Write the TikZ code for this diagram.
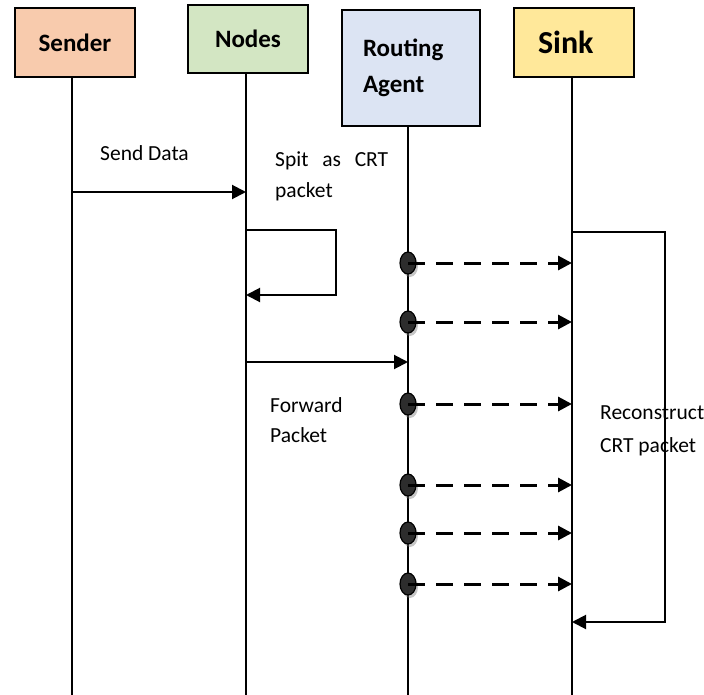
\documentclass[tikz,border=0pt]{standalone}
\usepackage{fontspec}
\setmainfont{Carlito}
\definecolor{sendc}{HTML}{F8CBAD}
\definecolor{nodec}{HTML}{D3E6C3}
\definecolor{routc}{HTML}{DCE4F3}
\definecolor{sinkc}{HTML}{FFE89A}
\usetikzlibrary{arrows.meta}
\usetikzlibrary{shapes.geometric, shadows}
\tikzstyle{head}=[draw=black, line width=2.5pt, inner sep=0pt, align=left, font=\bfseries\fontsize{25}{36}\selectfont]
\tikzstyle{lbl}=[anchor=west, inner sep=0pt, align=left, font=\fontsize{21.5}{31}\selectfont]
\tikzstyle{life}=[line width=2pt]
\tikzstyle{msg}=[line width=2pt, -{Triangle[length=14pt,width=14pt]}]
\tikzstyle{dmsg}=[line width=3pt, dash pattern=on 17pt off 11pt, -{Triangle[length=14pt,width=14pt]}]
\tikzstyle{ball}=[ellipse, draw=black, line width=1.2pt, fill=gray!35!black, minimum width=16pt, minimum height=22pt, inner sep=0pt,
  drop shadow={shadow xshift=2pt, shadow yshift=-3pt, opacity=.45}]

\begin{document}
\begin{tikzpicture}[x=1pt, y=-1pt]
    \useasboundingbox (0,0) rectangle (704,695);

      % heads
      \node[head, fill=sendc, minimum width=120pt, minimum height=69pt] (sender) at (75,42.5) {Sender};
      \node[head, fill=nodec, minimum width=120pt, minimum height=68pt] (nodes) at (248,39) {Nodes};
      \node[head, fill=routc, minimum width=138pt, minimum height=116pt, text width=96pt] (agent) at (411,68) {Routing\\Agent};
      \node[head, fill=sinkc, minimum width=120pt, minimum height=69pt, text width=72pt,
            font=\bfseries\fontsize{32}{36}\selectfont] (sink) at (574,42.5) {Sink};

      % life lines
      \coordinate (sbot) at (72,695);
      \coordinate (nbot) at (246,695);
      \coordinate (abot) at (408,695);
      \coordinate (kbot) at (572,695);
      \draw[life] (sender.south -| sbot) -- (sbot);
      \draw[life] (nodes.south -| nbot) -- (nbot);
      \draw[life] (agent.south -| abot) -- (abot);
      \draw[life] (sink.south -| kbot) -- (kbot);

      % sender -> nodes
      \coordinate (s1) at (72,192);
      \coordinate (n1) at (246,192);
      \draw[msg] (s1) -- (n1);
      \node[lbl] (send) at (100,153) {Send Data};

      % split
      \coordinate (n2) at (246,230);
      \coordinate (n3) at (246,295);
      \draw[msg] (n2) -- ++(90,0) |- (n3);
      \node[lbl, text width=113pt] (split) at (275,176) {Spit\hfill as\hfill CRT\\packet};

      % nodes -> agent
      \coordinate (n4) at (246,362);
      \coordinate (a4) at (408,362);
      \draw[msg] (n4) -- (a4);
      \node[lbl, font=\fontsize{21.5}{30}\selectfont] (fwd) at (270,420) {Forward\\Packet};

      % agent -> sink
      \foreach \i/\y in {1/263, 2/322, 3/404, 4/485, 5/533, 6/584}{
        \node[ball] (d\i) at (408,\y) {};
        \coordinate (k\i) at (572,\y);
        \draw[dmsg] (d\i.center) -- (k\i);
      }

      % reconstruct
      \node[lbl, font=\fontsize{21.5}{33}\selectfont] (rec) at (600,431) {Reconstruct\\CRT packet};
      \coordinate (k0) at (572,232);
      \coordinate (k7) at (572,622);
      \draw[msg] (k0) -- ++(93,0) |- (k7);

\end{tikzpicture}
\end{document}
